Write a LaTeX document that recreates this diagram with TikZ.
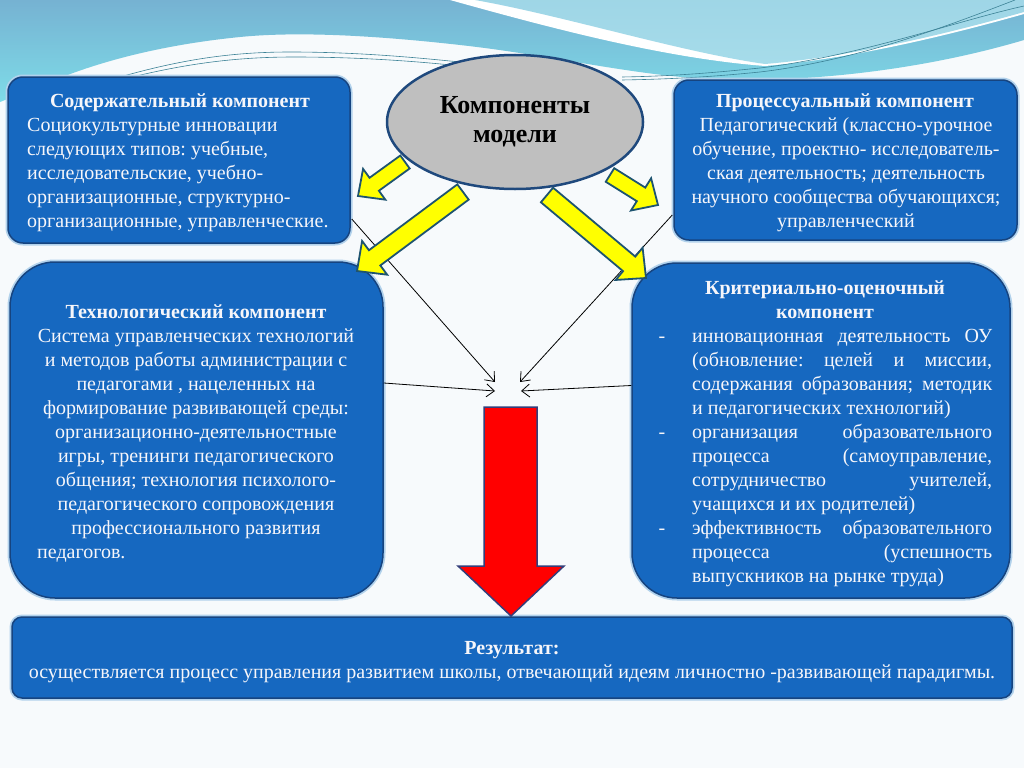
\documentclass[tikz,border=0pt]{standalone}
\usepackage{fontspec}
\setmainfont{Liberation Serif}
\usetikzlibrary{calc,arrows.meta,shapes.geometric}
\frenchspacing

\definecolor{bgc}{RGB}{247,250,252}
\definecolor{skyA}{RGB}{118,178,210}
\definecolor{skyB}{RGB}{126,220,232}
\definecolor{blob}{RGB}{166,220,234}
\definecolor{swline}{RGB}{60,130,150}
\definecolor{bxfill}{RGB}{22,104,192}
\definecolor{bxdraw}{RGB}{22,68,128}
\definecolor{glow}{RGB}{178,210,236}
\definecolor{txtw}{RGB}{246,246,250}
\definecolor{elfill}{RGB}{191,191,191}
\definecolor{eldraw}{RGB}{31,73,125}
\definecolor{yfill}{RGB}{255,255,0}
\definecolor{ydraw}{RGB}{30,84,112}
\definecolor{rfill}{RGB}{255,0,0}
\definecolor{rdraw}{RGB}{52,62,122}

% #1 tail, #2 tip, #3 shaft half width, #4 head half width, #5 head length
\newcommand{\yarr}[5]{%
  \path (#1) coordinate (ya) (#2) coordinate (yb);
  \path ($(yb)!#5!(ya)$) coordinate (yh);
  \draw[yarrow] ($(ya)!#3!90:(yb)$) -- ($(yh)!#3!-90:(ya)$) -- ($(yh)!#4!-90:(ya)$)
     -- (yb) -- ($(yh)!#4!90:(ya)$) -- ($(yh)!#3!90:(ya)$) -- ($(ya)!#3!-90:(yb)$) -- cycle;
}

\begin{document}
\begin{tikzpicture}[x=1pt,y=-1pt,
  box/.style={draw=bxdraw, line width=1.5pt, fill=bxfill, inner sep=0pt,
    preaction={draw=glow, line width=5pt}},
  txt/.style={text=txtw, inner sep=0pt, font=\fontsize{20}{24}\selectfont},
  ttl/.style={text=txtw, inner sep=0pt, font=\fontsize{20}{24}\selectfont\bfseries},
  yarrow/.style={draw=ydraw, line width=1.8pt, fill=yfill, line join=miter},
  conn/.style={draw=black, line width=0.8pt, -{Straight Barb[length=8pt,width=13pt]}}
]
\useasboundingbox (0,0) rectangle (1024,768);
\fill[bgc] (0,0) rectangle (1024,768);

% ---- background swooshes
\shade[top color=skyA, bottom color=skyB]
  (0,0) -- (1024,0) -- (1024,40) .. controls (950,62) and (850,80) .. (740,80)
  .. controls (650,80) and (560,56) .. (460,45) .. controls (380,36) and (300,31) .. (240,37)
  .. controls (160,45) and (100,62) .. (60,78) .. controls (30,90) and (10,98) .. (0,102) -- cycle;
\fill[white] (450,0) .. controls (540,25) and (660,58) .. (765,66)
  .. controls (860,58) and (960,32) .. (1024,14) -- (1024,0) -- cycle;
\shade[top color=blob!85!skyA, bottom color=blob]
  (475,0) .. controls (565,16) and (680,52) .. (765,64)
  .. controls (860,56) and (960,30) .. (1024,12) -- (1024,0) -- cycle;
\draw[swline, line width=0.6pt] (120,77) .. controls (180,60) and (230,52) .. (290,52)
  .. controls (360,52) and (420,58) .. (460,62);
\draw[swline, line width=0.6pt] (124,79) .. controls (184,64) and (234,57) .. (294,57)
  .. controls (364,57) and (424,62) .. (460,66);
\draw[swline, line width=0.6pt] (622,80) .. controls (680,79) and (720,76) .. (760,72)
  .. controls (860,60) and (950,25) .. (1015,0);
\draw[swline, line width=0.6pt] (622,77) .. controls (680,76) and (720,72) .. (760,68)
  .. controls (860,56) and (960,20) .. (1024,6);

% ---- boxes
\node[box, rounded corners=15pt, minimum width=342pt, minimum height=166pt] (c1) at (179,160) {};
\node[box, rounded corners=15pt, minimum width=343pt, minimum height=160pt] (c2) at (845.5,160) {};
\node[box, rounded corners=45pt, minimum width=373pt, minimum height=336pt] (c3) at (196.5,430) {};
\node[box, rounded corners=45pt, minimum width=378pt, minimum height=335pt] (c4) at (821,430.5) {};
\node[box, rounded corners=10pt, minimum width=1000pt, minimum height=81pt] (res) at (512,657.5) {};

% ---- thin connectors
\coordinate (t1) at (495,382);
\coordinate (t2) at (495,391);
\coordinate (t3) at (520,382);
\coordinate (t4) at (521,391);
\draw[conn] ($(c1.east)+(1,59)$) -- (t1);
\draw[conn] ($(c3.east)+(0,-47)$) -- (t2);
\draw[conn] ($(c2.west)+(-1,55)$) -- (t3);
\draw[conn] ($(c4.west)+(0,-45)$) -- (t4);

% ---- red arrow
\draw[draw=rdraw, line width=1.5pt, fill=rfill, line join=miter]
  (484,407) -- (537,407) -- (537,566) -- (564,566) -- (511,616) -- (458,566) -- (484,566) -- cycle;

% ---- yellow arrows
\yarr{405,162}{358,196}{8pt}{19pt}{20pt}
\yarr{463,192}{357,271}{9.5pt}{21pt}{22pt}
\yarr{610,175}{658,205}{8pt}{19pt}{20pt}
\yarr{547,195}{646,278}{9.5pt}{21pt}{22pt}

% ---- ellipse (multi-line nodes: base anchor = last line)
\node[ellipse, draw=eldraw, line width=2.5pt, fill=elfill, minimum width=256pt, minimum height=134pt, inner sep=0pt] (el) at (515,122) {};
\node[inner sep=0pt, font=\fontsize{26}{29}\selectfont\bfseries, align=center, anchor=base] (elt) at (515,142) {Компоненты\\модели};

% ---- texts box 1
\node[ttl, anchor=base] (h1) at (180,107) {Содержательный компонент};
\node[txt, anchor=base west, align=left] (x1) at (27,227) {Социокультурные инновации\\следующих типов: учебные,\\исследовательские, учебно-\\организационные, структурно-\\организационные, управленческие.};

% ---- texts box 2
\node[ttl, anchor=base] (h2) at (845,107) {Процессуальный компонент};
\node[txt, anchor=base, align=center] (x2) at (846,227) {Педагогический (классно-урочное\\обучение, проектно- исследователь-\\ская деятельность; деятельность\\научного сообщества обучающихся;\\управленческий};

% ---- texts box 3
\node[ttl, anchor=base] (h3) at (196,318) {Технологический компонент};
\node[txt, anchor=base, align=center] (x3) at (196,534) {Система управленческих технологий\\и методов работы администрации с\\педагогами , нацеленных на\\формирование развивающей среды:\\организационно-деятельностные\\игры, тренинги педагогического\\общения; технология психолого-\\педагогического сопровождения\\профессионального развития};
\node[txt, anchor=base west] (x3b) at (37,558) {педагогов.};

% ---- texts box 4
\node[ttl, anchor=base, align=center] (h4) at (825,318) {Критериально-оценочный\\компонент};
\node[txt, anchor=base] (d1) at (662,342) {-};
\node[txt, anchor=base] (d2) at (662,438) {-};
\node[txt, anchor=base] (d3) at (662,534) {-};
\node[txt, anchor=base west, align=left] (x4) at (692,582) {%
\makebox[300pt][s]{инновационная деятельность ОУ}\\
\makebox[300pt][s]{(обновление: целей и миссии,}\\
\makebox[300pt][s]{содержания образования; методик}\\
и педагогических технологий)\\
\makebox[300pt][s]{организация образовательного}\\
\makebox[300pt][s]{процесса (самоуправление,}\\
\makebox[300pt][s]{сотрудничество учителей,}\\
учащихся и их родителей)\\
\makebox[300pt][s]{эффективность образовательного}\\
\makebox[300pt][s]{процесса (успешность}\\
выпускников на рынке труда)};

% ---- result
\node[ttl, anchor=base] (hr) at (512,654) {Результат:};
\node[txt, anchor=base] (xr) at (512,678) {осуществляется процесс управления развитием школы, отвечающий идеям личностно -развивающей парадигмы.};
\end{tikzpicture}
\end{document}
